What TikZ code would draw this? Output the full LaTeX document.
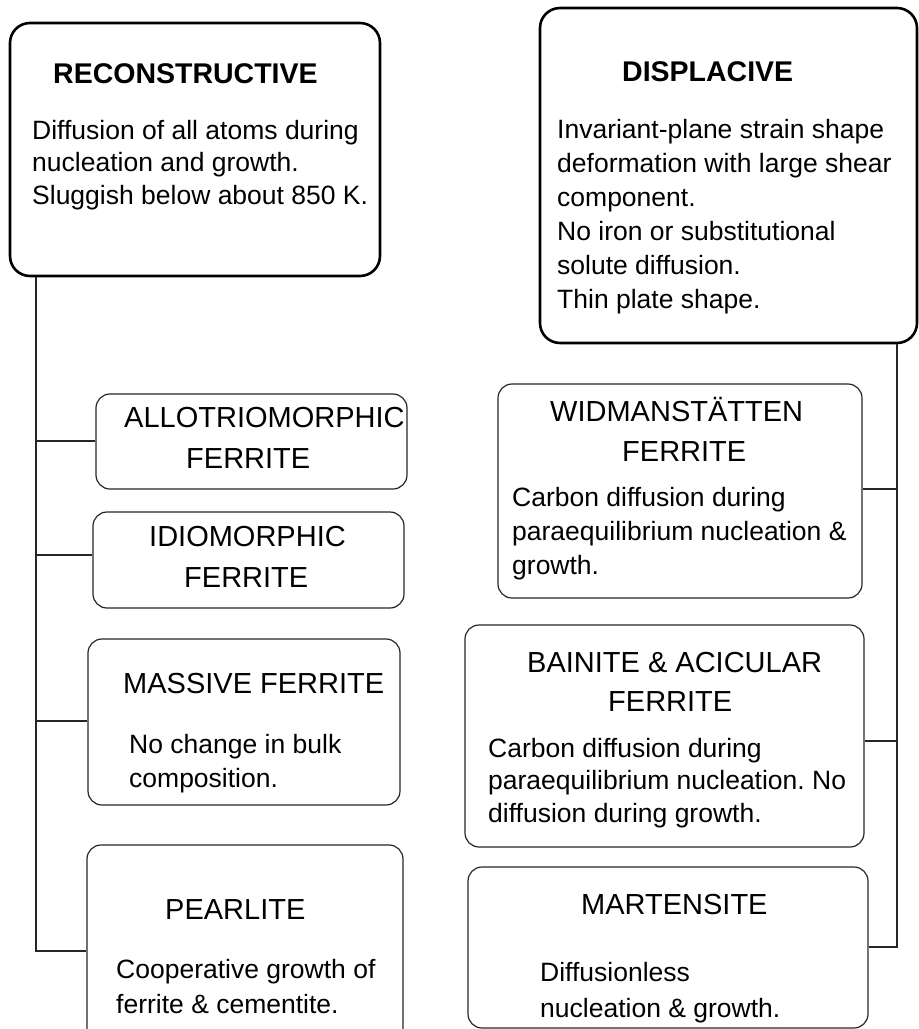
\documentclass[tikz,border=0pt]{standalone}
\usepackage{fontspec}
\setmainfont{Liberation Sans}
\frenchspacing
\begin{document}
\begin{tikzpicture}[x=1pt,y=-1pt,
  bigbox/.style={draw=black, line width=2.6pt, rounded corners=20pt, inner sep=0pt},
  smallbox/.style={draw=black!85, line width=1.2pt, rounded corners=14pt, inner sep=0pt},
  conn/.style={draw=black!85, line width=1.2pt},
  bhead/.style={inner sep=0pt, anchor=base west, font=\fontsize{28.5}{34}\selectfont\bfseries},
  head/.style={inner sep=0pt, anchor=base west, font=\fontsize{29}{35}\selectfont},
  body/.style={inner sep=0pt, anchor=north west, align=left, font=\fontsize{26.5}{#1}\selectfont}
]
\useasboundingbox (0,0) rectangle (919,1029);

% ---- boxes ----
\node[bigbox, minimum width=370pt, minimum height=253pt] (R) at (195,149.5) {};
\node[bigbox, minimum width=377pt, minimum height=335pt] (D) at (728.5,175.5) {};
\node[smallbox, minimum width=311pt, minimum height=95pt] (allo) at (251.5,441.5) {};
\node[smallbox, minimum width=311pt, minimum height=96pt] (idio) at (248.5,560) {};
\node[smallbox, minimum width=312pt, minimum height=166pt] (mass) at (244,722) {};
\node[smallbox, minimum width=316pt, minimum height=200pt] (pear) at (245,945) {};
\node[smallbox, minimum width=364pt, minimum height=214pt] (widm) at (680,491) {};
\node[smallbox, minimum width=399pt, minimum height=222pt] (bain) at (664.5,736) {};
\node[smallbox, minimum width=400pt, minimum height=161pt] (mart) at (668,947.5) {};

% ---- texts ----
\node[bhead] (tR) at (53,83.3) {RECONSTRUCTIVE};
\node[body=32.5] (bR) at (32,116.25) {\strut Diffusion of all atoms during\\nucleation and growth.\\Sluggish below about 850 K.};

\node[bhead] (tD) at (622,81.7) {DISPLACIVE};
\node[body=34] (bD) at (557,114.5) {\strut Invariant-plane strain shape\\deformation with large shear\\component.\\No iron or substitutional\\solute diffusion.\\Thin plate shape.};

\node[head] (tA1) at (124,427) {ALLOTRIOMORPHIC};
\node[head] (tA2) at (186,468) {FERRITE};

\node[head] (tI1) at (149,546) {IDIOMORPHIC};
\node[head] (tI2) at (184,587) {FERRITE};

\node[head] (tM) at (123,693) {MASSIVE FERRITE};
\node[body=34] (bM) at (129,729.2) {\strut No change in bulk\\composition.};

\node[head] (tP) at (165,919) {PEARLITE};
\node[body=35] (bP) at (116,953.5) {\strut Cooperative growth of\\ferrite \& cementite.};

\node[head] (tW1) at (550,421.7) {WIDMANSTÄTTEN};
\node[head] (tW2) at (622,461.7) {FERRITE};
\node[body=34] (bW) at (512,482.9) {\strut Carbon diffusion during\\paraequilibrium nucleation \&\\growth.};

\node[head] (tB1) at (527,672) {BAINITE \& ACICULAR};
\node[head] (tB2) at (608,711) {FERRITE};
\node[body=32.5] (bB) at (488,734.25) {\strut Carbon diffusion during\\paraequilibrium nucleation. No\\diffusion during growth.};

\node[head] (tMa) at (581,914) {MARTENSITE};
\node[body=36] (bMa) at (540,955.8) {\strut Diffusionless\\nucleation \& growth.};

% ---- connectors ----
\coordinate (LT) at (36,951);
\coordinate (ja) at (36,441);
\coordinate (ji) at (36,555);
\coordinate (jm) at (36,721);
\draw[conn] (R.south -| LT) -- (LT) -- (LT -| pear.west);
\draw[conn] (ja) -- (ja -| allo.west);
\draw[conn] (ji) -- (ji -| idio.west);
\draw[conn] (jm) -- (jm -| mass.west);

\coordinate (RT) at (897,947);
\coordinate (jw) at (897,489);
\coordinate (jb) at (897,741);
\draw[conn] (D.south -| RT) -- (RT) -- (RT -| mart.east);
\draw[conn] (jw) -- (jw -| widm.east);
\draw[conn] (jb) -- (jb -| bain.east);
\end{tikzpicture}
\end{document}
